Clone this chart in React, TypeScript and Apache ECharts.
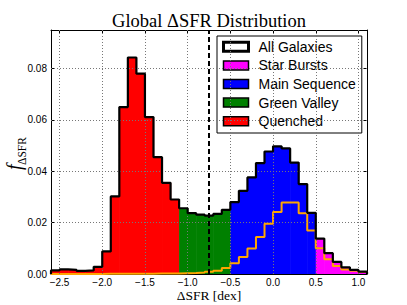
import React, { useEffect, useRef } from 'react';
import * as echarts from 'echarts';

// Histogram bin edges (ΔSFR, dex)
const binEdges = [
  -2.6, -2.5, -2.4, -2.3, -2.2, -2.1, -2.0, -1.9, -1.8, -1.7, -1.6, -1.5, -1.4,
  -1.3, -1.2, -1.1, -1.0, -0.9, -0.8, -0.7, -0.6, -0.5, -0.4, -0.3, -0.2, -0.1,
  0.0, 0.1, 0.2, 0.3, 0.4, 0.5, 0.6, 0.7, 0.8, 0.9, 1.0, 1.1,
];

// f_ΔSFR of all galaxies per bin
const allGalaxies = [
  0.0014, 0.0018, 0.0016, 0.0012, 0.0014, 0.0028, 0.0088, 0.0302, 0.065, 0.0843,
  0.078, 0.0611, 0.0455, 0.0355, 0.029, 0.0256, 0.0237, 0.0231, 0.0227, 0.0234,
  0.025, 0.028, 0.0324, 0.0376, 0.0432, 0.0477, 0.0497, 0.0489, 0.0434, 0.035,
  0.0238, 0.0138, 0.0081, 0.0047, 0.0026, 0.0016, 0.0009,
];

// orange step histogram (sub-sample)
const subSample = [
  0, 0, 0, 0, 0, 0, 0.0001, 0.0001, 0.0001, 0.0001, 0.0001, 0.0001, 0.0002,
  0.0002, 0.0002, 0.0003, 0.0004, 0.0006, 0.0009, 0.0013, 0.0023, 0.0042, 0.0066,
  0.0099, 0.0144, 0.0196, 0.0241, 0.0278, 0.0278, 0.0237, 0.0169, 0.01, 0.0057,
  0.0031, 0.0018, 0.0013, 0.0008,
];

const classNames = ['Quenched', 'Green Valley', 'Main Sequence', 'Star Bursts'];
const classLow = [-2.6, -1.1, -0.5, 0.5];
const classHigh = [-1.1, -0.5, 0.5, 1.1];
const classColors = ['#ff0000', '#008000', '#0000ff', '#ff00ff'];

const xTicks = [-2.5, -2.0, -1.5, -1.0, -0.5, 0.0, 0.5, 1.0];
const yTicks = [0.0, 0.02, 0.04, 0.06, 0.08];
const dividerValue = -0.75;

const SANS = 'Liberation Sans, Arial, sans-serif';
const SERIF = 'Liberation Serif, Times New Roman, serif';

export default function App() {
  const ref = useRef<HTMLDivElement>(null);

  useEffect(() => {
    document.body.style.margin = '0';
    const chart = echarts.init(ref.current as HTMLDivElement, null, { renderer: 'svg' });

    const bins = allGalaxies.map((h, i) => [binEdges[i], binEdges[i + 1], h]);
    const eps = 1e-9;

    const fillSeries = classNames.map((name, k) => ({
      type: 'custom',
      name,
      z: 2,
      clip: true,
      itemStyle: { color: classColors[k] },
      encode: { x: [0, 1], y: 2 },
      data: bins.filter((b) => b[0] >= classLow[k] - eps && b[1] <= classHigh[k] + eps),
      renderItem: (params: any, api: any) => {
        const a = api.coord([api.value(0), api.value(2)]);
        const b = api.coord([api.value(1), 0]);
        return {
          type: 'rect',
          shape: { x: a[0], y: a[1], width: b[0] - a[0] + 0.6, height: b[1] - a[1] },
          style: { fill: classColors[k] },
        };
      },
    }));

    const last = binEdges.length - 1;
    const stepData = (vals: number[]) => [
      [binEdges[0], 0],
      ...vals.map((h, i) => [binEdges[i], h]),
      [binEdges[last], vals[vals.length - 1]],
      [binEdges[last], 0],
    ];

    const axisCommon = {
      type: 'value',
      axisLine: { show: true, onZero: false, lineStyle: { color: '#000', width: 1 } },
      splitLine: { show: false },
    };

    const option: any = {
      animation: false,
      grid: { left: 51, right: 40, top: 30, bottom: 31, containLabel: false },
      xAxis: [
        {
          ...axisCommon,
          min: -2.6,
          max: 1.1,
          position: 'bottom',
          axisTick: { show: true, inside: true, length: 4, customValues: xTicks, lineStyle: { color: '#000' } },
          axisLabel: {
            customValues: xTicks,
            formatter: (v: number) => v.toFixed(1).replace('-', '\u2212'),
            fontFamily: SANS,
            fontSize: 10,
            lineHeight: 11,
            color: '#000',
            margin: 3,
          },
        },
        {
          ...axisCommon,
          min: -2.6,
          max: 1.1,
          position: 'top',
          axisTick: { show: true, inside: true, length: 4, customValues: xTicks, lineStyle: { color: '#000' } },
          axisLabel: { show: false },
        },
      ],
      yAxis: [
        {
          ...axisCommon,
          min: 0,
          max: 0.095,
          interval: 0.02,
          position: 'left',
          axisTick: { show: true, inside: true, length: 4, lineStyle: { color: '#000' } },
          axisLabel: {
            formatter: (v: number) => v.toFixed(2),
            showMaxLabel: false,
            fontFamily: SANS,
            fontSize: 10,
            color: '#000',
            margin: 4,
          },
        },
        {
          ...axisCommon,
          min: 0,
          max: 0.095,
          interval: 0.02,
          position: 'right',
          axisTick: { show: true, inside: true, length: 4, lineStyle: { color: '#000' } },
          axisLabel: { show: false },
        },
      ],
      legend: {
        left: 217,
        top: 36,
        orient: 'vertical',
        selectedMode: false,
        backgroundColor: '#fff',
        borderColor: '#000',
        borderWidth: 1,
        borderRadius: 0,
        padding: [3, 6, 4, 5],
        itemGap: 3,
        itemWidth: 25,
        itemHeight: 9,
        textStyle: { fontFamily: SANS, fontSize: 14, color: '#000', lineHeight: 15.6, padding: [0, 0, 0, 5] },
        data: [
          { name: 'All Galaxies', icon: 'rect', itemStyle: { color: '#fff', borderColor: '#000', borderWidth: 3 } },
          { name: 'Star Bursts', icon: 'rect', itemStyle: { color: classColors[3], borderColor: '#000', borderWidth: 1.5 } },
          { name: 'Main Sequence', icon: 'rect', itemStyle: { color: classColors[2], borderColor: '#000', borderWidth: 1.5 } },
          { name: 'Green Valley', icon: 'rect', itemStyle: { color: classColors[1], borderColor: '#000', borderWidth: 1.5 } },
          { name: 'Quenched', icon: 'rect', itemStyle: { color: classColors[0], borderColor: '#000', borderWidth: 1.5 } },
        ],
      },
      series: [
        ...fillSeries,
        {
          type: 'line',
          name: 'grid',
          z: 3,
          data: [[binEdges[0], 0]],
          symbol: 'none',
          lineStyle: { width: 0, opacity: 0 },
          markLine: {
            silent: true,
            symbol: ['none', 'none'],
            label: { show: false },
            lineStyle: { color: '#777', width: 1, type: [1, 2] },
            data: [
              ...xTicks.map((v) => ({ xAxis: v })),
              ...yTicks.filter((v) => v > 0).map((v) => ({ yAxis: v })),
            ],
          },
        },
        {
          type: 'line',
          name: 'sub-sample',
          z: 4,
          step: 'end',
          symbol: 'none',
          data: stepData(subSample),
          lineStyle: { color: '#ffa500', width: 2 },
        },
        {
          type: 'line',
          name: 'All Galaxies',
          z: 5,
          step: 'end',
          symbol: 'none',
          data: stepData(allGalaxies),
          lineStyle: { color: '#000', width: 2.2 },
          itemStyle: { color: '#000' },
          markLine: {
            silent: true,
            symbol: ['none', 'none'],
            label: { show: false },
            lineStyle: { color: '#000', width: 2, type: [5, 3] },
            data: [{ xAxis: dividerValue }],
          },
        },
      ],
      graphic: [
        {
          type: 'text',
          x: 209,
          y: 20.5,
          style: {
            text: 'Global \u0394SFR Distribution',
            font: `18.5px ${SERIF}`,
            fill: '#000',
            textAlign: 'center',
            textVerticalAlign: 'middle',
          },
        },
        {
          type: 'text',
          x: 209,
          y: 295,
          style: {
            text: '\u0394SFR [dex]',
            font: `13.5px ${SERIF}`,
            fill: '#000',
            textAlign: 'center',
            textVerticalAlign: 'middle',
          },
        },
        {
          type: 'group',
          x: 22,
          y: 170,
          rotation: Math.PI / 2,
          children: [
            {
              type: 'text',
              x: 0,
              y: 2,
              style: {
                text: 'f',
                font: `italic 20px ${SERIF}`,
                fill: '#000',
                textAlign: 'left',
                textVerticalAlign: 'bottom',
              },
            },
            {
              type: 'text',
              x: 5,
              y: 6,
              style: {
                text: '\u0394SFR',
                font: `11.5px ${SERIF}`,
                fill: '#000',
                textAlign: 'left',
                textVerticalAlign: 'bottom',
              },
            },
          ],
        },
      ],
    };

    chart.setOption(option);
    return () => chart.dispose();
  }, []);

  return <div ref={ref} style={{ width: 407, height: 305 }} />;
}
